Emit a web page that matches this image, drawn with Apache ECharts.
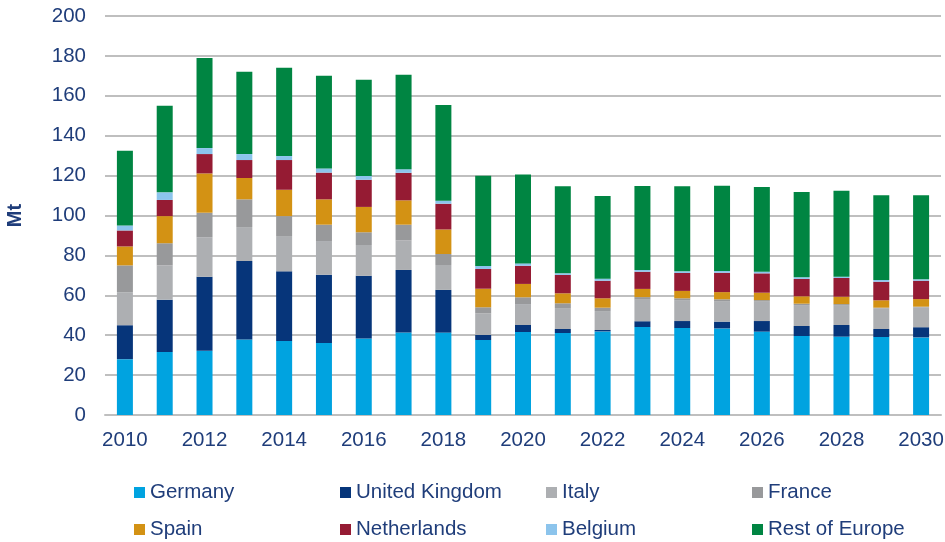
<!DOCTYPE html>
<html>
<head>
<meta charset="utf-8">
<script src="https://cdn.jsdelivr.net/npm/echarts@6/dist/echarts.min.js"></script>
<style>
  html, body { margin: 0; padding: 0; background: #fff; }
  #main { width: 945px; height: 542px; }
</style>
</head>
<body>
<div id="main"></div>
<script>
var years = ['2010','2011','2012','2013','2014','2015','2016','2017','2018','2019','2020',
             '2021','2022','2023','2024','2025','2026','2027','2028','2029','2030'];

var germany     = [28, 31.6, 32.2, 37.9, 37.1, 36.1, 38.4, 41.4, 41.3, 37.6, 41.6, 41.1, 41.9, 44.1, 43.6, 43.4, 41.8, 39.6, 39.3, 39.1, 38.9];
var unitedKingdom = [17, 26.2, 37.1, 39.3, 34.9, 34.2, 31.4, 31.3, 21.4, 2.5, 3.5, 2.0, 0.7, 2.9, 3.5, 3.4, 5.3, 5.0, 5.8, 4.0, 5.1];
var italy       = [16.5, 17.2, 19.8, 17.0, 17.7, 16.9, 15.4, 14.8, 12.5, 10.9, 10.5, 10.5, 9.5, 10.8, 10.5, 10.3, 10.0, 10.5, 10.0, 10.4, 10.0];
var france      = [13.5, 11.1, 12.3, 13.9, 10.0, 8.2, 6.4, 7.9, 5.5, 3.0, 3.4, 2.4, 1.7, 1.3, 0.9, 0.9, 0.5, 0.7, 0.5, 0.3, 0.3];
var spain       = [9.5, 13.6, 19.7, 10.7, 13.2, 12.7, 12.7, 12.2, 12.3, 9.3, 6.7, 5.0, 4.7, 4.1, 3.7, 3.6, 3.7, 3.7, 3.7, 3.7, 3.8];
var netherlands = [8, 8.1, 9.7, 9.0, 14.9, 13.4, 13.6, 13.8, 12.9, 9.9, 9.1, 9.2, 8.8, 8.6, 9.0, 9.7, 9.7, 8.7, 9.4, 9.3, 9.2];
var belgium     = [2.5, 3.8, 3.0, 3.0, 2.0, 2.1, 1.9, 1.8, 1.5, 1.5, 1.2, 0.8, 1.0, 0.9, 0.8, 0.9, 0.8, 0.8, 0.6, 0.9, 0.7];
var restOfEurope = [37.5, 43.4, 45.2, 41.2, 44.2, 46.4, 48.2, 47.3, 48.0, 45.2, 44.6, 43.6, 41.5, 42.1, 42.6, 42.7, 42.5, 42.8, 43.1, 42.4, 42.1];

var yTicks = { min: 0, max: 200, interval: 20 };

var textColor = '#1f3d7a';
var fontFam = '"Liberation Sans", Arial, sans-serif';

var seriesDefs = [
  { name: 'Germany',        data: germany,       color: '#00a3e0' },
  { name: 'United Kingdom', data: unitedKingdom, color: '#06357a' },
  { name: 'Italy',          data: italy,         color: '#adafb2' },
  { name: 'France',         data: france,        color: '#98999b' },
  { name: 'Spain',          data: spain,         color: '#d39214' },
  { name: 'Netherlands',    data: netherlands,   color: '#951b33' },
  { name: 'Belgium',        data: belgium,       color: '#8cc4ec' },
  { name: 'Rest of Europe', data: restOfEurope,  color: '#008542' }
];

var series = seriesDefs.map(function (s) {
  return {
    name: s.name,
    type: 'bar',
    stack: 'total',
    barWidth: 16,
    itemStyle: { color: s.color },
    data: s.data
  };
});

// one legend per item: 4 columns x 2 rows
var legends = seriesDefs.map(function (s, i) {
  var col = i % 4, row = Math.floor(i / 4);
  return {
    data: [s.name],
    left: 134 + col * 206,
    top: 482 + row * 37,
    padding: 0,
    itemWidth: 11,
    itemHeight: 11,
    icon: 'rect',
    textStyle: { color: textColor, fontSize: 20.5, fontFamily: fontFam }
  };
});

var myChart = echarts.init(document.getElementById('main'));
var option = {
  animation: false,
  backgroundColor: '#fff',
  grid: { left: 105, right: 4, top: 16, bottom: 127, containLabel: false, outerBoundsMode: 'none' },
  legend: legends,
  xAxis: {
    type: 'category',
    data: years,
    axisLine: { lineStyle: { color: '#bfbfbf', width: 2 } },
    axisTick: { show: false },
    axisLabel: {
      interval: 1,
      color: textColor,
      fontSize: 20.5,
      fontFamily: fontFam,
      margin: 15
    }
  },
  yAxis: {
    type: 'value',
    min: yTicks.min,
    max: yTicks.max,
    interval: yTicks.interval,
    name: 'Mt',
    nameLocation: 'middle',
    nameRotate: 90,
    nameGap: 80,
    nameTextStyle: { color: textColor, fontSize: 20, fontWeight: 'bold', fontFamily: fontFam },
    axisLine: { show: false },
    axisTick: { show: false },
    splitLine: { lineStyle: { color: '#bfbfbf', width: 2 } },
    axisLabel: {
      color: textColor,
      fontSize: 20.5,
      fontFamily: fontFam,
      margin: 19
    }
  },
  series: series
};
myChart.setOption(option);

window.addEventListener('resize', function () {
  myChart.resize();
});
</script>
</body>
</html>
